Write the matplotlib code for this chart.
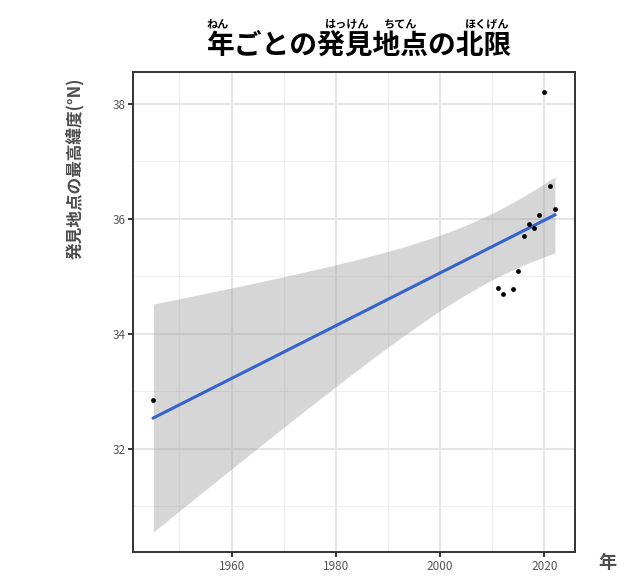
import numpy as np
import matplotlib
matplotlib.use("Agg")
import matplotlib.pyplot as plt
from matplotlib.ticker import MultipleLocator

plt.rcParams["font.family"] = ["Noto Sans CJK JP", "DejaVu Sans"]

# --------------------- DATA ---------------------
years = [1945, 2011, 2012, 2014, 2015, 2016, 2017, 2018, 2019, 2020, 2021, 2022]
lat_max = [32.85, 34.80, 34.68, 34.78, 35.09, 35.69, 35.90, 35.84, 36.07, 38.20, 36.57, 36.16]

x_ticks = [1960, 1980, 2000, 2020]
y_ticks = [32, 34, 36, 38]

title = "年ごとの発見地点の北限"
ruby = [("ねん", 218), ("はっけん", 347), ("ちてん", 401), ("ほくげん", 487)]
y_label = "発見地点の最高緯度(°N)"
x_label = "年"

# --------------------- LINEAR FIT + 95% CI ---------------------
x = np.array(years, dtype=float)
y = np.array(lat_max)
slope, icpt = np.polyfit(x, y, 1)
resid = y - (slope * x + icpt)
n = len(x)
s = np.sqrt(np.sum(resid ** 2) / (n - 2))
t_val = 2.228  # t(0.975, df=10)
xs = np.linspace(x.min(), x.max(), 200)
fit = slope * xs + icpt
se = s * np.sqrt(1 / n + (xs - x.mean()) ** 2 / np.sum((x - x.mean()) ** 2))

# --------------------- PLOT ---------------------
W, H = 637, 585
fig = plt.figure(figsize=(W / 100, H / 100), dpi=100)
ax = fig.add_axes([133.3 / W, 1 - 552 / H, (575 - 133.3) / W, (552 - 72) / H])

ax.fill_between(xs, fit - t_val * se, fit + t_val * se, color="#999999",
                alpha=0.4, linewidth=0, zorder=2)
ax.plot(xs, fit, color="#3463CC", linewidth=2.2, zorder=3)
ax.scatter(x, y, s=12, color="black", zorder=4, linewidths=0)

ax.set_xlim(1941.15, 2025.85)
ax.set_ylim(30.2, 38.55)
ax.set_xticks(x_ticks)
ax.set_yticks(y_ticks)
ax.xaxis.set_minor_locator(MultipleLocator(10))
ax.yaxis.set_minor_locator(MultipleLocator(1))
ax.tick_params(which="minor", length=0)
ax.tick_params(which="major", length=3.5, width=1.4, color="#333333",
               labelsize=8.5, labelcolor="#555555", pad=2)
ax.grid(which="major", color="#E6E6E6", linewidth=1.5, zorder=0)
ax.grid(which="minor", color="#EFEFEF", linewidth=0.8, zorder=0)
ax.set_axisbelow(True)
for sp in ax.spines.values():
    sp.set_color("#333333")
    sp.set_linewidth(1.4)

fig.text(359.5 / W, 1 - 46 / H, title, ha="center", va="center",
         fontsize=20, fontweight="bold", color="black")
for txt, cx in ruby:
    fig.text(cx / W, 1 - 24 / H, txt, ha="center", va="center",
             fontsize=8, fontweight="bold", color="black")

fig.text(75 / W, 1 - 168 / H, y_label, rotation=90, ha="center", va="center",
         fontsize=12, fontweight="bold", color="#4D4D4D")
fig.text(607 / W, 1 - 563 / H, x_label, ha="center", va="center",
         fontsize=13, fontweight="bold", color="#4D4D4D")

fig.savefig("out.png", dpi=100)
